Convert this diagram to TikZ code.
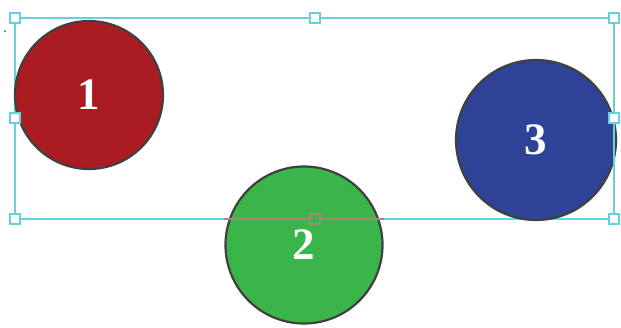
\documentclass[tikz,border=0pt]{standalone}
\usepackage{fontspec}
\setmainfont{Liberation Serif}
\definecolor{cred}{RGB}{170,28,34}
\definecolor{cgreen}{RGB}{57,181,74}
\definecolor{cblue}{RGB}{46,67,152}
\definecolor{csel}{RGB}{104,206,226}
\definecolor{cedge}{RGB}{64,64,64}
\definecolor{cmix}{RGB}{160,140,120}
\tikzset{
  ball/.style={circle, draw=cedge, line width=2.2pt, inner sep=0pt, text=white,
    font=\fontsize{45}{45}\selectfont\bfseries},
  handle/.style={draw=csel, line width=1.6pt, fill=white, minimum size=10.5pt, inner sep=0pt, rectangle},
  sel/.style={draw=csel, line width=2pt}
}
\begin{document}
\begin{tikzpicture}[x=1pt,y=-1pt]
\useasboundingbox (0,0) rectangle (621,327);
% selection frame corners
\coordinate (tl) at (15,18);
\coordinate (tr) at (614,18);
\coordinate (bl) at (15,219);
\coordinate (br) at (614,219);
\draw[sel] (tl) rectangle (br);
% circles
\node[ball, fill=cred, minimum size=148pt] (c1) at (89,95) {1};
\node[ball, fill=cblue, minimum size=160pt] (c3) at (536,140) {3};
\node[ball, fill=cgreen, minimum size=157pt] (c2) at (304,245) {2};
% frame line across green circle
\draw[draw=cmix, line width=2pt] (c2.west |- bl) -- (c2.east |- bl);
\draw[sel] (tr) -- (br);
% handles
\node[handle] (h1) at (tl) {};
\node[handle] (h2) at (315,18) {};
\node[handle] (h3) at (tr) {};
\node[handle] (h4) at (15,118) {};
\node[handle] (h5) at (614,118) {};
\node[handle] (h6) at (bl) {};
\node[handle, draw=cmix, fill=cgreen] (h7) at (315,219) {};
\node[handle] (h8) at (br) {};
\fill[black!70] (5,31) circle (1pt);
\end{tikzpicture}
\end{document}
